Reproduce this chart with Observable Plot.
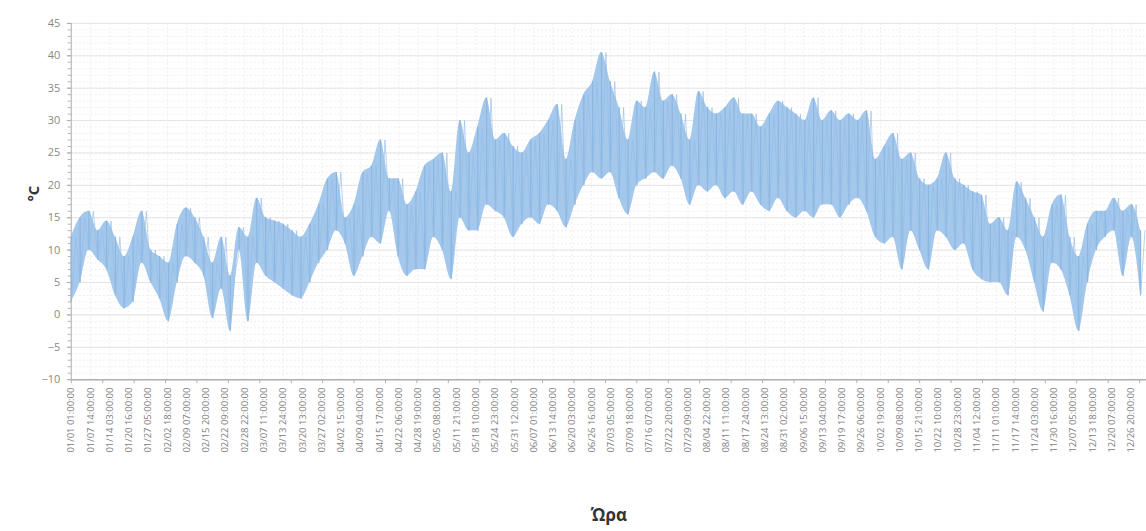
<!DOCTYPE html>
<html><head><meta charset="utf-8">
<script src="https://cdn.jsdelivr.net/npm/d3@7"></script>
<script src="https://cdn.jsdelivr.net/npm/@observablehq/plot@0.6"></script>
<style>
html,body{margin:0;padding:0;background:#fff;overflow:hidden;}
</style></head><body><div id="chart"></div>
<script>
// Hourly temperature read as 3-day low/high envelope (°C), starting 01/01
const sampleStepDays = 3;
const lowTemps = [
  2, 5, 10, 8.5, 7, 3, 1, 2, 8, 5, 2.5, -1, 5, 9, 8, 6, -0.5, 4, -2.5, 10,
  -1, 8, 6, 5, 4, 3, 2.5, 5, 8, 10, 13, 11, 6, 9, 12, 11, 16, 9, 6, 7,
  7, 12, 10, 5.5, 15, 13, 13, 17, 16, 15, 12, 14, 15, 14, 17, 16, 13.5, 17, 20, 22,
  21, 22, 18, 15.5, 20, 21, 22, 21, 23, 21, 17, 20, 19, 20, 18, 19, 17, 19, 17, 16,
  18, 16, 15, 16, 15, 17, 17, 15, 17, 18, 16, 12, 11, 12, 7, 13, 10, 7, 13, 12,
  10, 11, 7, 5.5, 5, 5, 3, 12, 10, 5, 0.5, 8, 7, 3, -2.5, 5, 10, 12, 13, 6,
  12, 3
];
const highTemps = [
  12, 15, 16, 13, 14.5, 12, 9, 12, 16, 10, 9, 8, 14, 16.5, 15, 12, 8, 12, 6, 13.5,
  12, 18, 15, 14.5, 14, 13, 12, 14, 17, 21, 22, 15, 17, 22, 23, 27, 21, 21, 17, 19,
  23, 24, 25, 19, 30, 25, 29, 33.5, 27, 28, 26, 25, 27, 28, 30, 32.5, 24, 30, 34, 36,
  40.5, 36, 32, 27, 33, 32, 37.5, 33, 34, 31, 27, 34.5, 32, 31, 32, 33.5, 31, 31, 29, 31,
  33, 32, 31, 30, 33.5, 30, 31.5, 30, 31, 30, 31.5, 24, 26, 28, 24, 25, 21, 20, 21, 25,
  21, 20, 19, 18.5, 14, 15, 13, 20.5, 18, 15, 12, 17, 18.5, 12, 9, 14, 16, 16, 18, 16,
  17, 13
];
const tickLabels = [
  "01/01 01:00:00","01/07 14:00:00","01/14 03:00:00","01/20 16:00:00","01/27 05:00:00",
  "02/02 18:00:00","02/09 07:00:00","02/15 20:00:00","02/22 09:00:00","02/28 22:00:00",
  "03/07 11:00:00","03/13 24:00:00","03/20 13:00:00","03/27 02:00:00","04/02 15:00:00",
  "04/09 04:00:00","04/15 17:00:00","04/22 06:00:00","04/28 19:00:00","05/05 08:00:00",
  "05/11 21:00:00","05/18 10:00:00","05/24 23:00:00","05/31 12:00:00","06/07 01:00:00",
  "06/13 14:00:00","06/20 03:00:00","06/26 16:00:00","07/03 05:00:00","07/09 18:00:00",
  "07/16 07:00:00","07/22 20:00:00","07/29 09:00:00","08/04 22:00:00","08/11 11:00:00",
  "08/17 24:00:00","08/24 13:00:00","08/31 02:00:00","09/06 15:00:00","09/13 04:00:00",
  "09/19 17:00:00","09/26 06:00:00","10/02 19:00:00","10/09 08:00:00","10/15 21:00:00",
  "10/22 10:00:00","10/28 23:00:00","11/04 12:00:00","11/11 01:00:00","11/17 14:00:00",
  "11/24 03:00:00","11/30 16:00:00","12/07 05:00:00","12/13 18:00:00","12/20 07:00:00",
  "12/26 20:00:00"
];
const tickStepHours = 157;
const yTicks = [-10, -5, 0, 5, 10, 15, 20, 25, 30, 35, 40, 45];
const yLabel = "°C";
const xLabel = "Ώρα";

const samples = lowTemps.map((lo, i) => ({hour: i * sampleStepDays * 24, low: lo, high: highTemps[i]}));
const zig = samples.flatMap(s => [{hour: s.hour, t: s.low}, {hour: s.hour + sampleStepDays * 12, t: s.high}]);
const tickHours = tickLabels.map((_, i) => i * tickStepHours);
const minorY = d3.range(-10, 46, 1);

const chart = Plot.plot({
  width: 1150, height: 531,
  marginLeft: 71, marginRight: 0, marginTop: 23, marginBottom: 150.5,
  style: {fontFamily: "'Open Sans', 'Noto Sans', sans-serif", background: "#fff", overflow: "visible"},
  x: {domain: [0, 8760]},
  y: {domain: [-10, 45]},
  marks: [
    Plot.ruleY(minorY, {stroke: "#efefef", strokeDasharray: "2,2"}),
    Plot.ruleX(tickHours, {stroke: "#eeeeee", strokeDasharray: "2,2"}),
    Plot.ruleY(yTicks, {stroke: "#e4e4e4"}),
    Plot.areaY(samples, {x: "hour", y1: "low", y2: "high", fill: "#a4c8eb", curve: "monotone-x"}),
    Plot.ruleX(samples, {x: "hour", y1: "low", y2: "high", stroke: "#8ab6e2", strokeWidth: 1.2}),
    Plot.line(zig, {x: "hour", y: "t", stroke: "#92bce6", strokeWidth: 0.8, strokeOpacity: 0.8}),
    Plot.ruleX([0], {stroke: "#b0b0b0"}),
    Plot.ruleY([-10], {stroke: "#b0b0b0", strokeWidth: 1.5}),
    Plot.axisY({ticks: minorY, tickSize: 3, tickFormat: () => "", stroke: "#b0b0b0"}),
    Plot.axisY({ticks: yTicks, tickSize: 4, tickPadding: 7, fontSize: 11, color: "#888", stroke: "#b0b0b0", label: null}),
    Plot.axisX({ticks: d3.range(0, 8760, 256), tickSize: 4, tickFormat: () => "", stroke: "#b0b0b0", label: null}),
    Plot.axisX({ticks: tickHours, tickSize: 0, tickPadding: 8, tickRotate: -90, fontSize: 9.5, color: "#808080",
      tickFormat: d => tickLabels[Math.round(d / tickStepHours)], label: null}),
    Plot.text([yLabel], {frameAnchor: "left", dx: -37, rotate: -90, fontSize: 15, fontWeight: "bold", fill: "#333"}),
    Plot.text([xLabel], {frameAnchor: "bottom", dy: 142, fontSize: 17, fontWeight: "bold", fill: "#333"})
  ]
});
document.getElementById("chart").appendChild(chart);
</script></body></html>
